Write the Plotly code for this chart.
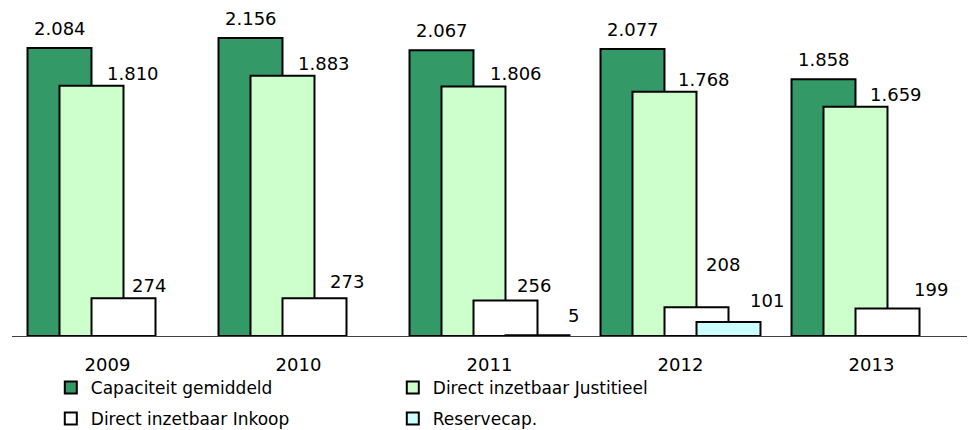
import plotly.graph_objects as go

years = ["2009", "2010", "2011", "2012", "2013"]
capaciteit = [2084, 2156, 2067, 2077, 1858]
justitieel = [1810, 1883, 1806, 1768, 1659]
inkoop = [274, 273, 256, 208, 199]
reserve = [None, None, 5, 101, None]

names = ["Capaciteit gemiddeld", "Direct inzetbaar Justitieel",
         "Direct inzetbaar Inkoop", "Reservecap."]
colors = ["#339966", "#CCFFCC", "#FFFFFF", "#CCFFFF"]
series = [capaciteit, justitieel, inkoop, reserve]

# layout/styling (label offsets in pixels, per series and year)
bar_w = 0.335
centers = [-0.2513, -0.0838, 0.0838, 0.2513]
label_xshift = [[0, 0, 0, 0, 0],
                [42, 42, 43, 40, 41],
                [25, 32, 28, 26, 43],
                [0, 0, 36, 38, 0]]
label_yshift = [[7, 7, 7, 7, 7],
                [0, 0, 0, 0, 0],
                [0, 4, 3, 30, 7],
                [0, 0, 7, 9, 0]]
legends = ["legend", "legend", "legend2", "legend2"]
FONT = "Verdana, DejaVu Sans, sans-serif"

fig = go.Figure()
for i, (vals, name, col) in enumerate(zip(series, names, colors)):
    fig.add_trace(go.Bar(
        x=years, y=vals, name=name,
        marker=dict(color=col, line=dict(color="#000000", width=2)),
        width=bar_w, offset=centers[i] - bar_w / 2,
        legend=legends[i], hoverinfo="skip",
    ))

annotations = []
for i, vals in enumerate(series):
    for j, v in enumerate(vals):
        if v is None:
            continue
        annotations.append(dict(
            x=j + centers[i], y=v, xref="x", yref="y",
            text=f"{v:,}".replace(",", "."),
            showarrow=False, xanchor="center", yanchor="bottom",
            xshift=label_xshift[i][j], yshift=label_yshift[i][j],
            font=dict(family=FONT, size=18, color="#000000"),
        ))

legend_common = dict(orientation="h", xref="container", yref="container",
                     xanchor="left", yanchor="middle",
                     entrywidth=297, entrywidthmode="pixels",
                     font=dict(family=FONT, size=17, color="#000000"),
                     bgcolor="rgba(0,0,0,0)", borderwidth=0)

fig.update_layout(
    width=975, height=430,
    margin=dict(l=12, r=8, t=10, b=94, autoexpand=False),
    paper_bgcolor="white", plot_bgcolor="white",
    barmode="overlay",
    font=dict(family=FONT, size=17, color="#000000"),
    xaxis=dict(type="category", range=[-0.5, 4.5], showline=True,
               linecolor="#404040", linewidth=1,
               showgrid=False, zeroline=False, ticks="", ticklabelstandoff=12,
               tickfont=dict(family=FONT, size=18, color="#000000")),
    yaxis=dict(range=[0, 2359], visible=False, showgrid=False, zeroline=False),
    annotations=annotations,
    legend=dict(legend_common, x=0.0521, y=0.0977),
    legend2=dict(legend_common, x=0.0521, y=0.0256),
    showlegend=True,
)

fig.write_html("out.html", config={"displayModeBar": False},
               post_script="document.body.style.margin='0';document.body.style.overflow='hidden';")
